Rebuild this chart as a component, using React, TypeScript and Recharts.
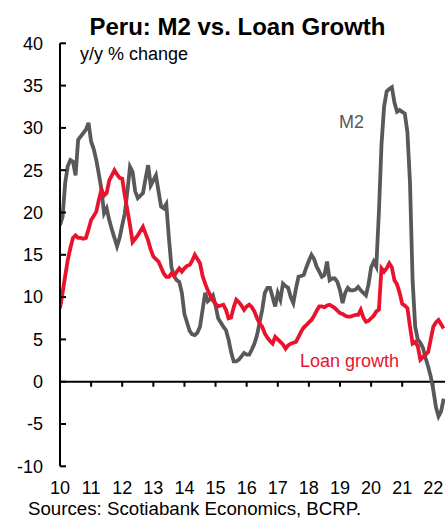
import React from 'react';
import { LineChart, Line, XAxis, YAxis, ReferenceLine } from 'recharts';

// Monthly observations, Jan 2010 onward (y/y % change)
const m2Growth: number[] = [
  18.5, 19.5, 23.5, 25.5, 26.2, 26.0, 24.4, 28.6, 29.0, 29.4, 29.8, 30.6,
  28.4, 27.5, 26.2, 24.5, 22.7, 19.9, 20.5, 19.1, 18.0, 17.0, 16.0, 17.0,
  18.5, 19.9, 22.5, 25.4, 24.8, 22.5, 21.7, 22.0, 22.3, 24.0, 25.6, 23.2,
  23.8, 24.4, 22.5, 20.7, 20.5, 21.0, 17.0, 13.5, 12.5, 12.0, 11.8, 10.5,
  8.0, 7.0, 6.0, 5.6, 5.5, 5.8, 6.5, 8.5, 10.5, 9.5, 9.8, 10.2,
  9.0, 7.5, 7.0, 6.5, 6.1, 5.0, 3.5, 2.4, 2.4, 2.6, 3.0, 3.4,
  3.2, 3.2, 3.8, 4.5, 5.5, 7.0, 8.5, 10.5, 11.1, 11.1, 10.0, 8.9,
  10.5, 9.7, 11.6, 11.3, 11.1, 10.0, 9.3, 11.0, 12.4, 12.5, 12.6, 13.5,
  14.3, 15.0, 14.5, 13.6, 13.0, 12.4, 12.6, 14.2, 12.0, 12.2, 12.2, 11.8,
  10.8, 9.3, 10.5, 11.1, 10.8, 10.8, 10.9, 11.2, 10.8, 10.5, 10.2, 11.5,
  13.5, 14.2, 13.6, 20.0, 28.0, 32.5, 34.3, 34.6, 34.8, 33.0, 31.9, 32.1,
  31.9, 31.7, 29.5, 23.5, 12.0, 6.5, 5.0, 4.6, 4.0, 2.8, 1.8, 0.6,
  -1.0, -3.0, -4.1, -3.5, -2.0,
];

const loanGrowth: number[] = [
  8.7, 10.5, 12.5, 14.4, 15.8, 17.0, 17.3, 17.0, 17.0, 16.9, 17.0, 18.0,
  19.1, 19.6, 20.1, 21.5, 22.7, 22.0, 22.3, 23.8, 24.4, 25.0, 24.5, 24.1,
  24.0, 22.0, 20.3, 18.5, 16.5, 16.9, 17.3, 17.8, 18.3, 17.5, 16.7, 15.6,
  14.8, 14.5, 14.2, 13.5, 12.8, 12.4, 12.4, 12.8, 12.5, 13.0, 13.4, 13.0,
  13.4, 13.7, 13.8, 14.3, 15.0, 14.5, 14.0, 12.5, 11.6, 10.8, 10.2, 9.6,
  9.2, 8.9, 9.0, 9.1, 8.5, 7.5, 7.6, 8.8, 9.7, 9.4, 9.0, 8.5,
  8.9, 9.1, 8.8, 8.3, 7.5, 6.9, 6.5, 5.7, 5.2, 4.8, 4.5, 5.3,
  5.0, 4.7, 4.4, 3.9, 4.3, 4.5, 4.6, 4.7, 5.3, 5.9, 6.4, 6.7,
  7.0, 7.3, 7.8, 8.4, 8.9, 8.9, 8.8, 9.0, 9.1, 8.9, 8.7, 8.4,
  8.1, 8.0, 7.8, 7.7, 7.7, 7.8, 7.9, 7.9, 8.5, 7.6, 7.1, 7.2,
  7.5, 7.8, 8.3, 8.5, 13.4, 13.0, 13.4, 14.0, 13.5, 12.0, 11.5, 10.5,
  9.2, 9.0, 8.7, 6.5, 4.5, 4.7, 4.2, 2.6, 2.9, 3.2, 3.5, 5.0,
  6.5, 7.0, 7.3, 6.8, 6.3,
];

const yearLabels: string[] = ['10', '11', '12', '13', '14', '15', '16', '17', '18', '19', '20', '21', '22'];
const yearTicks: number[] = [0, 12, 24, 36, 48, 60, 72, 84, 96, 108, 120, 132, 144];
const yTicks: number[] = [-10, -5, 0, 5, 10, 15, 20, 25, 30, 35, 40];

const RED = '#E9132D';
const GREY = '#595959';
const FONT = '"Liberation Sans", Arial, sans-serif';

const data = m2Growth.map((v, i) => ({ month: i, m2: v, loan: loanGrowth[i] }));

const YTick = (props: any) => {
  const { x, y, payload } = props;
  return (
    <g>
      <text x={x} y={y} dy="0.355em" textAnchor="end" fontSize={18} fill="#000" fontFamily={FONT}>
        {payload.value}
      </text>
      <line x1={x + 17} x2={x + 23} y1={y} y2={y} stroke="#000" strokeWidth={2} />
    </g>
  );
};

const XTick = (props: any) => {
  const { x, y, payload } = props;
  const idx = yearTicks.indexOf(payload.value);
  return (
    <text x={x} y={y} dy="0.71em" textAnchor="middle" fontSize={18} fill="#000" fontFamily={FONT}>
      {idx >= 0 ? yearLabels[idx] : ''}
    </text>
  );
};

export default function App() {
  return (
    <div style={{ position: 'absolute', left: 0, top: 0, width: 445, height: 518, background: '#fff', overflow: 'hidden' }}>
      <LineChart
        width={445}
        height={518}
        data={data}
        margin={{ top: 43.3, right: 0, bottom: 21.7, left: 0 }}
      >
        <XAxis
          dataKey="month"
          type="number"
          domain={[0, 148.5]}
          allowDataOverflow
          ticks={yearTicks}
          interval={0}
          axisLine={false}
          tickLine={false}
          tickSize={0}
          tickMargin={15}
          height={30}
          tick={<XTick />}
        />
        <YAxis
          type="number"
          domain={[-10, 40]}
          ticks={yTicks}
          interval={0}
          width={60}
          axisLine={{ stroke: '#000', strokeWidth: 2 }}
          tickLine={false}
          tickSize={0}
          tickMargin={17}
          tick={<YTick />}
        />
        <ReferenceLine y={0} stroke="#000" strokeWidth={2} />
        {yearTicks.map((t) => (
          <ReferenceLine
            key={t}
            segment={[{ x: t, y: 0 }, { x: t, y: -0.6 }]}
            stroke="#000"
            strokeWidth={2}
          />
        ))}
        <Line type="linear" dataKey="m2" stroke={GREY} strokeWidth={3.8} dot={false} isAnimationActive={false} />
        <Line type="linear" dataKey="loan" stroke={RED} strokeWidth={3.8} dot={false} isAnimationActive={false} />
      </LineChart>
      <svg width={445} height={518} style={{ position: 'absolute', left: 0, top: 0, pointerEvents: 'none' }}>
        <text x={237.5} y={35} textAnchor="middle" fontSize={24} fontWeight="bold" fill="#000" fontFamily={FONT}>
          Peru: M2 vs. Loan Growth
        </text>
        <text x={80} y={59.5} fontSize={18} fill="#000" fontFamily={FONT}>y/y % change</text>
        <text x={339} y={128.3} fontSize={18} fill={GREY} fontFamily={FONT}>M2</text>
        <text x={300} y={367} fontSize={18} fill={RED} fontFamily={FONT}>Loan growth</text>
        <text x={28} y={515} fontSize={18.7} fill="#000" fontFamily={FONT}>Sources: Scotiabank Economics, BCRP.</text>
      </svg>
    </div>
  );
}
